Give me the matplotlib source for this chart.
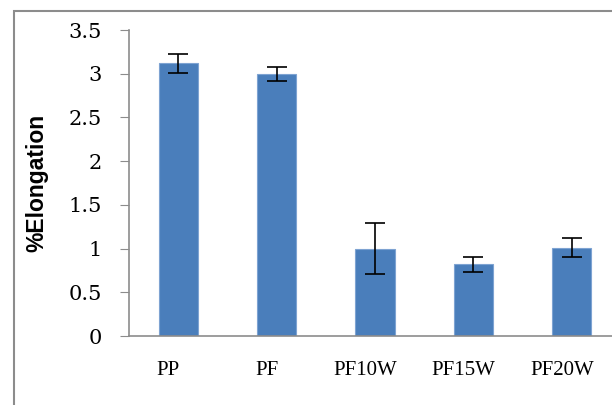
import numpy as np
import matplotlib.pyplot as plt
import matplotlib.transforms as mtransforms
from matplotlib.patches import Rectangle

samples = ["PP", "PF", "PF10W", "PF15W", "PF20W"]
elongation = [3.12, 3.00, 1.00, 0.82, 1.01]
err = [0.11, 0.08, 0.29, 0.085, 0.11]
yticks = [0, 0.5, 1, 1.5, 2, 2.5, 3, 3.5]
ytick_labels = ["0", "0.5", "1", "1.5", "2", "2.5", "3", "3.5"]

fig = plt.figure(figsize=(6.12, 4.05), dpi=100)

# outer chart border (cut off at the right and bottom like the screenshot)
fig.patches.append(Rectangle((14 / 612, -0.1), 1.2, 1 - 11 / 405 + 0.1,
                             transform=fig.transFigure, fill=False,
                             edgecolor="#8c8c8c", linewidth=1.5))

ax = fig.add_axes([129 / 612, 1 - 336 / 405, 492 / 612, 306 / 405])
x = np.arange(len(samples))
ax.bar(x, elongation, width=0.4, color="#4a7ebb", edgecolor="#7ea3d2",
       linewidth=0.8, zorder=2)
ax.errorbar(x, elongation, yerr=err, fmt="none", ecolor="black",
            elinewidth=1.2, capsize=7, capthick=1.2, zorder=3)

ax.set_xlim(-0.5, 4.5)
ax.set_ylim(0, 3.5)
ax.set_yticks(yticks)
ax.set_yticklabels(ytick_labels, fontsize=15, family="DejaVu Serif")
ax.set_xticks(x)
ax.set_xticklabels(samples, fontsize=15, family="Liberation Serif")
ax.tick_params(axis="x", length=0, pad=18)
ax.tick_params(axis="y", length=6.5, color="#8c8c8c", pad=13)

# category labels sit a little left of the bars in the original
shift = mtransforms.ScaledTranslation(-10 / 100, 0, fig.dpi_scale_trans)
for lab in ax.get_xticklabels():
    lab.set_transform(lab.get_transform() + shift)

ax.set_ylabel("%Elongation", fontsize=16.5, fontweight="bold",
              family="Liberation Sans")
ax.yaxis.set_label_coords(-0.163, 0.5)

for s in ["top", "right"]:
    ax.spines[s].set_visible(False)
ax.spines["left"].set_color("#8c8c8c")
ax.spines["bottom"].set_color("#8c8c8c")
ax.spines["left"].set_linewidth(1.2)
ax.spines["bottom"].set_linewidth(1.2)

fig.savefig("out.png", dpi=100)
